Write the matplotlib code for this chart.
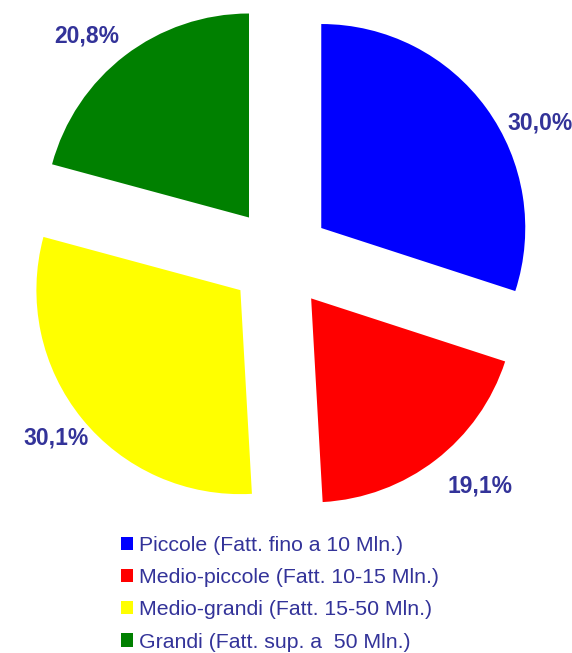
import matplotlib.pyplot as plt

labels = [
    "Piccole (Fatt. fino a 10 Mln.)",
    "Medio-piccole (Fatt. 10-15 Mln.)",
    "Medio-grandi (Fatt. 15-50 Mln.)",
    "Grandi (Fatt. sup. a  50 Mln.)",
]
values = [30.0, 19.1, 30.1, 20.8]
colors = ["#0000ff", "#ff0000", "#ffff00", "#008000"]

text_col = "#333399"
plt.rcParams["font.family"] = ["Liberation Sans", "DejaVu Sans"]

fig = plt.figure(figsize=(5.72, 6.53), dpi=100)
ax = fig.add_axes([0, 0, 1, 1])

wedges, _, autotexts = ax.pie(
    values,
    colors=colors,
    startangle=90,
    counterclock=False,
    explode=[0.25] * len(values),
    autopct=lambda p: f"{p:.1f}%".replace(".", ","),
    pctdistance=1.2,
    wedgeprops=dict(linewidth=0),
    textprops=dict(color=text_col, fontsize=16.5, fontweight="bold"),
)

# data label placement (outside end, as in the original)
label_pos = [(1.275, 0.662), (0.98, -1.12), (-1.10, -0.88), (-0.946, 1.088)]
for t, pos in zip(autotexts, label_pos):
    t.set_position(pos)
    t.set_ha("center")
    t.set_va("center")

# center at (280, 258) px, radius 204 px
ax.set_xlim(-280 / 204, (572 - 280) / 204)
ax.set_ylim(-(653 - 258) / 204, 258 / 204)
ax.set_aspect("auto")
ax.axis("off")

fig.legend(
    wedges, labels,
    loc="upper left",
    bbox_to_anchor=(121 / 572, 1 - 536 / 653),
    frameon=False,
    fontsize=15.3,
    labelcolor=text_col,
    borderpad=0,
    borderaxespad=0,
    handlelength=0.57,
    handleheight=0.57,
    handletextpad=0.3,
    labelspacing=0.62,
)

fig.savefig("out.png", dpi=100)
